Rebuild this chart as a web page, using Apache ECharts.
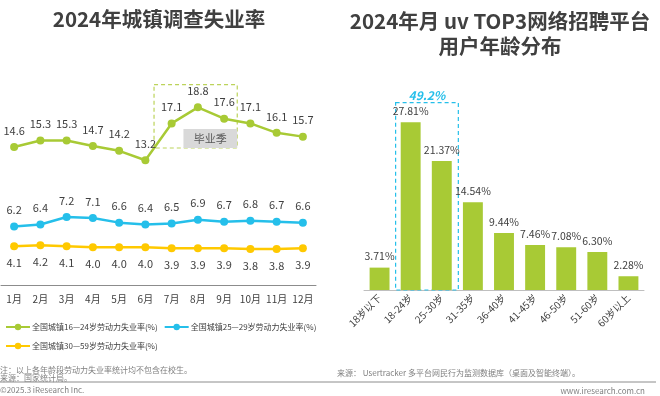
<!DOCTYPE html>
<html><head><meta charset="utf-8">
<script src="https://cdn.jsdelivr.net/npm/echarts@6/dist/echarts.min.js"></script>
<style>html,body{margin:0;padding:0;background:#fff}#c{width:660px;height:396px}</style>
</head><body><div id="c"></div>
<script>
const months = ['1月','2月','3月','4月','5月','6月','7月','8月','9月','10月','11月','12月'];
const youthRate = [14.6,15.3,15.3,14.7,14.2,13.2,17.1,18.8,17.6,17.1,16.1,15.7];
const midRate = [6.2,6.4,7.2,7.1,6.6,6.4,6.5,6.9,6.7,6.8,6.7,6.6];
const olderRate = [4.1,4.2,4.1,4.0,4.0,4.0,3.9,3.9,3.9,3.8,3.8,3.9];
const seriesNames = ['全国城镇16—24岁劳动力失业率(%)','全国城镇25—29岁劳动力失业率(%)','全国城镇30—59岁劳动力失业率(%)'];
const ageGroups = ['18岁以下','18-24岁','25-30岁','31-35岁','36-40岁','41-45岁','46-50岁','51-60岁','60岁以上'];
const ageShares = [3.71,27.81,21.37,14.54,9.44,7.46,7.08,6.30,2.28];
const highlightShare = '49.2%';

const FONT = '"Noto Sans CJK SC", "Noto Sans", sans-serif';
const GREEN = '#a8ca35', BLUE = '#25bfea', YELLOW = '#ffc900', TXT = '#404040';

const chart = echarts.init(document.getElementById('c'), null, {renderer:'canvas'});
function lineSeries(name, data, color, pos) {
  return {
    type:'line', name, data, xAxisIndex:0, yAxisIndex:0,
    symbol:'circle', symbolSize:8, itemStyle:{color}, lineStyle:{color, width:2.5},
    label:{show:true, position:pos, distance:7, fontSize:11, color:TXT, fontFamily:FONT,
      formatter:p=>p.value.toFixed(1)}
  };
}
const legendText = {fontSize:8, color:TXT, fontFamily:FONT, padding:[0,0,0,-3]};
chart.setOption({
  animation:false,
  textStyle:{fontFamily:FONT},
  title:[
    {text:'2024年城镇调查失业率', left:154, top:4, textAlign:'center',
     textStyle:{fontSize:20.5, fontWeight:'bold', color:TXT, fontFamily:FONT}},
    {text:'2024年月 uv TOP3网络招聘平台\n用户年龄分布', left:495, top:4, textAlign:'center',
     textStyle:{fontSize:20.5, fontWeight:'bold', color:TXT, fontFamily:FONT, lineHeight:25}}
  ],
  legend:[
    {left:0, top:318, itemWidth:24, itemHeight:8, itemGap:6,
     data:seriesNames.slice(0,2), textStyle:legendText},
    {left:0, top:337, itemWidth:24, itemHeight:8,
     data:seriesNames.slice(2), textStyle:legendText}
  ],
  grid:[
    {left:1, right:344, top:96, bottom:111},
    {left:364, right:16, top:109, bottom:106}
  ],
  xAxis:[
    {type:'category', gridIndex:0, data:months, boundaryGap:true,
     axisLine:{lineStyle:{color:'#8c8c8c', width:1}}, axisTick:{show:false},
     axisLabel:{fontSize:10, color:TXT, margin:9, fontFamily:FONT, interval:0}},
    {type:'category', gridIndex:1, data:ageGroups, boundaryGap:true,
     axisLine:{lineStyle:{color:'#bfbfbf', width:1}}, axisTick:{show:false},
     axisLabel:{fontSize:10, color:TXT, rotate:45, margin:6, fontFamily:FONT, interval:0}}
  ],
  yAxis:[
    {type:'value', gridIndex:0, min:0, max:20, show:false, splitLine:{show:false}},
    {type:'value', gridIndex:1, min:0, max:30, show:false, splitLine:{show:false}}
  ],
  series:[
    lineSeries(seriesNames[0], youthRate, GREEN, 'top'),
    lineSeries(seriesNames[1], midRate, BLUE, 'top'),
    lineSeries(seriesNames[2], olderRate, YELLOW, 'bottom'),
    {type:'bar', xAxisIndex:1, yAxisIndex:1, data:ageShares, barWidth:'64%',
     itemStyle:{color:GREEN},
     label:{show:true, position:'top', distance:6, fontSize:10.5, color:TXT, fontFamily:FONT,
       formatter:p=>p.value.toFixed(2)+'%'}}
  ]
});

// annotation boxes derived from axes
const px = (x,y)=>chart.convertToPixel({xAxisIndex:0,yAxisIndex:0},[x,y]);
const px2 = (x,y)=>chart.convertToPixel({xAxisIndex:1,yAxisIndex:1},[x,y]);
const a6 = px(5,0), a7 = px(6,0), a9 = px(8,0);
const step = a7[0]-a6[0];
const bl = a6[0] + step*0.33, br = a9[0] + step*0.5;
const bt = px(0,21.2)[1], bb = px(0,14.5)[1];
const gl = px(7,0)[0] - step*0.55, gt = px(0,16.5)[1];
const b0 = px2(0,0), b1 = px2(1,0), b2 = px2(2,0), b3 = px2(3,0);
const rl = (b0[0]+b1[0])/2 + 0.5, rr = (b2[0]+b3[0])/2 + 1;
const rt = px2(0,31.05)[1], rb = px2(0,0)[1];

chart.setOption({
  graphic:[
    {type:'rect', shape:{x:bl, y:bt, width:br-bl, height:bb-bt}, z:1,
     style:{fill:'none', stroke:'#bcd35a', lineWidth:1.2, lineDash:[4,3]}},
    {type:'rect', shape:{x:gl, y:gt, width:br-gl, height:bb-gt}, z:1,
     style:{fill:'#d9d9d9'}},
    {type:'text', x:(gl+br)/2, y:(gt+bb)/2, z:2,
     style:{text:'毕业季', fill:'#595959', font:'11px '+FONT, align:'center', verticalAlign:'middle'}},
    {type:'rect', shape:{x:rl, y:rt, width:rr-rl, height:rb-rt}, z:1,
     style:{fill:'none', stroke:BLUE, lineWidth:1.2, lineDash:[4,3]}},
    {type:'text', x:(rl+rr)/2, y:rt-7, z:2,
     style:{text:highlightShare, fill:BLUE, font:'italic bold 12px '+FONT, align:'center', verticalAlign:'middle'}},
    {type:'text', x:0, y:370, style:{text:'注：以上各年龄段劳动力失业率统计均不包含在校生。', fill:'#7f7f7f', font:'8px '+FONT, verticalAlign:'middle'}},
    {type:'text', x:0, y:378, style:{text:'来源：国家统计局。', fill:'#7f7f7f', font:'8px '+FONT, verticalAlign:'middle'}},
    {type:'text', x:337, y:373, style:{text:'来源： Usertracker 多平台网民行为监测数据库（桌面及智能终端）。', fill:'#7f7f7f', font:'8px '+FONT, verticalAlign:'middle'}},
    {type:'line', shape:{x1:0, y1:382, x2:656, y2:382}, style:{stroke:'#8c8c8c', lineWidth:1}},
    {type:'text', x:0, y:390, style:{text:'©2025.3 iResearch Inc.', fill:'#7f7f7f', font:'8px '+FONT, verticalAlign:'middle'}},
    {type:'text', x:645, y:391, style:{text:'www.iresearch.com.cn', fill:'#7f7f7f', font:'8px '+FONT, align:'right', verticalAlign:'middle'}}
  ]
});
</script></body></html>
